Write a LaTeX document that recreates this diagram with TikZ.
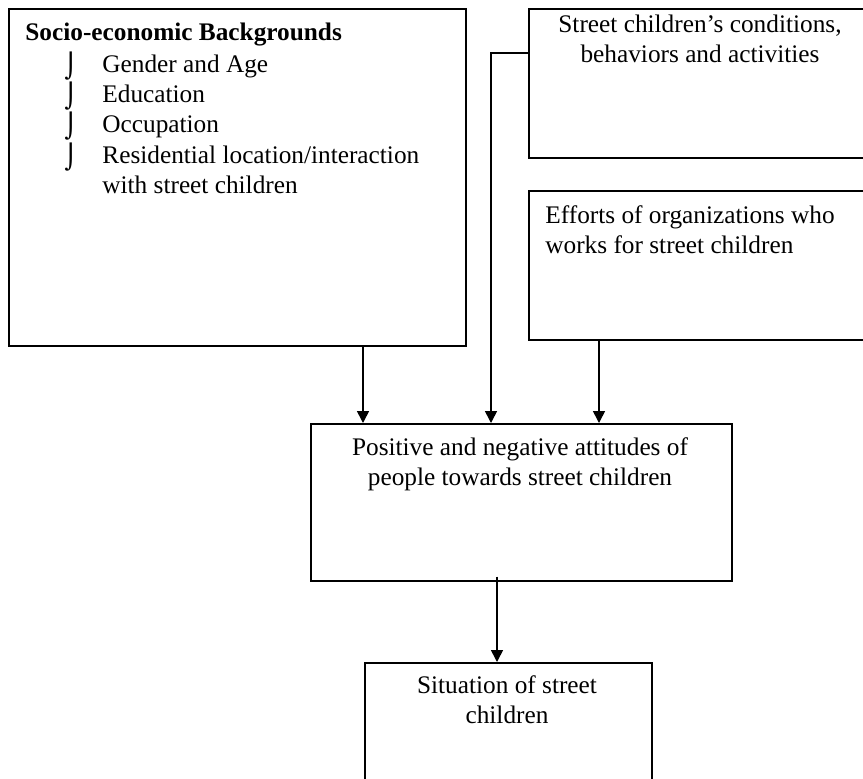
\documentclass[tikz,border=0pt]{standalone}
\usepackage{fontspec}
\setmainfont{Liberation Serif}
\newfontfamily\symfont{DejaVu Sans}
\usetikzlibrary{arrows.meta}

\begin{document}
\begin{tikzpicture}[x=0.5pt, y=-0.5pt,
    kasten/.style={draw, line width=0.8pt, inner sep=0pt, anchor=north west},
    zeile/.style={inner sep=0pt, font=\fontsize{12.65pt}{15.2pt}\selectfont},
    punkt/.style={inner sep=0pt, anchor=base, font=\symfont\fontsize{12pt}{14pt}\selectfont},
    pfeil/.style={line width=0.8pt, -{Triangle[length=6pt, width=6pt]}}
]

  % Bildausschnitt festlegen
  \clip (0,0) rectangle (863,778);

  % Kaesten
  \node[kasten, minimum width=228.5pt, minimum height=168.5pt] (socio) at (8,8) {};
  \node[kasten, minimum width=172pt, minimum height=74.5pt] (zustand) at (528,8) {};
  \node[kasten, minimum width=172pt, minimum height=74.5pt] (hilfe) at (528,190) {};
  \node[kasten, minimum width=210.5pt, minimum height=78.5pt] (haltung) at (310,423) {};
  \node[kasten, minimum width=143.5pt, minimum height=70pt] (lage) at (364,662) {};

  % Hintergrund-Merkmale
  \node[zeile, anchor=base west] (titel) at (25,40) {\bfseries Socio-economic Backgrounds};
  \node[punkt] (p1) at (71,74) {⌡};
  \node[punkt] (p2) at (71,104) {⌡};
  \node[punkt] (p3) at (71,134) {⌡};
  \node[punkt] (p4) at (71,165) {⌡};
  \node[zeile, anchor=base west] (alter) at (102,72) {Gender and Age};
  \node[zeile, anchor=base west] (bildung) at (102,102) {Education};
  \node[zeile, anchor=base west] (beruf) at (102,132) {Occupation};
  \node[zeile, anchor=base west] (wohnort) at (102,163) {Residential location/interaction};
  \node[zeile, anchor=base west] (wohnort2) at (102,193) {with street children};

  % Texte der rechten Kaesten
  \node[zeile, anchor=base] (z1) at (700,32) {Street children’s conditions,};
  \node[zeile, anchor=base] (z2) at (700,62) {behaviors and activities};
  \node[zeile, anchor=base west] (h1) at (545,223) {Efforts of organizations who};
  \node[zeile, anchor=base west] (h2) at (545,253) {works for street children};

  % Einstellungen und Situation
  \node[zeile, anchor=base] (e1) at (520,455) {Positive and negative attitudes of};
  \node[zeile, anchor=base] (e2) at (520,485) {people towards street children};
  \node[zeile, anchor=base] (s1) at (507,693) {Situation of street};
  \node[zeile, anchor=base] (s2) at (507,723) {children};

  % Pfeile
  \coordinate (xa) at (363,0);
  \coordinate (xb) at (491,0);
  \coordinate (xc) at (599,0);
  \coordinate (xd) at (497,0);
  \draw[pfeil] (xa |- socio.south) -- (xa |- haltung.north);
  \draw[pfeil] ([yshift=-22.5pt]zustand.north west) -| (xb |- haltung.north);
  \draw[pfeil] (xc |- hilfe.south) -- (xc |- haltung.north);
  \draw[pfeil, shorten <=-2.5pt] (xd |- haltung.south) -- (xd |- lage.north);

\end{tikzpicture}
\end{document}
